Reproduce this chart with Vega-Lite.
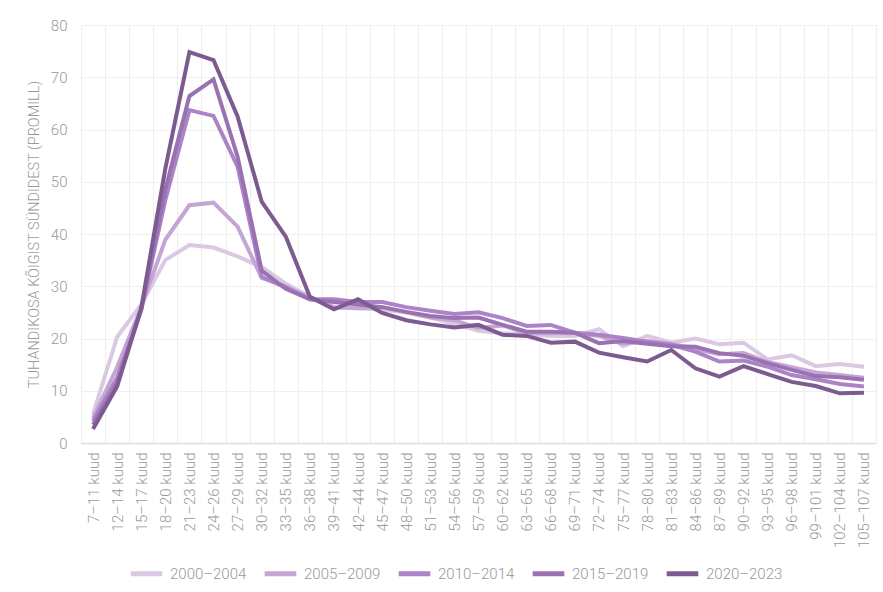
{
  "$schema": "https://vega.github.io/schema/vega-lite/v6.json",
  "width": 795,
  "height": 418,
  "autosize": "none",
  "padding": {"left": 81, "top": 25, "right": 7, "bottom": 149},
  "background": "#ffffff",
  "config": {
    "font": "Roboto",
    "view": {"stroke": null},
    "axis": {"labelFont": "Roboto", "titleFont": "Roboto"}
  },
  "datasets": {
    "d": [
      {"a":"7–11 kuud","p":"2000–2004","v":5.5},{"a":"12–14 kuud","p":"2000–2004","v":20.3},{"a":"15–17 kuud","p":"2000–2004","v":26.5},{"a":"18–20 kuud","p":"2000–2004","v":35.0},{"a":"21–23 kuud","p":"2000–2004","v":37.9},{"a":"24–26 kuud","p":"2000–2004","v":37.4},{"a":"27–29 kuud","p":"2000–2004","v":35.7},{"a":"30–32 kuud","p":"2000–2004","v":33.7},{"a":"33–35 kuud","p":"2000–2004","v":30.5},{"a":"36–38 kuud","p":"2000–2004","v":28.0},{"a":"39–41 kuud","p":"2000–2004","v":26.0},{"a":"42–44 kuud","p":"2000–2004","v":25.8},{"a":"45–47 kuud","p":"2000–2004","v":25.5},{"a":"48–50 kuud","p":"2000–2004","v":25.0},{"a":"51–53 kuud","p":"2000–2004","v":24.0},{"a":"54–56 kuud","p":"2000–2004","v":22.8},{"a":"57–59 kuud","p":"2000–2004","v":21.5},{"a":"60–62 kuud","p":"2000–2004","v":21.0},{"a":"63–65 kuud","p":"2000–2004","v":20.8},{"a":"66–68 kuud","p":"2000–2004","v":20.5},{"a":"69–71 kuud","p":"2000–2004","v":20.5},{"a":"72–74 kuud","p":"2000–2004","v":21.8},{"a":"75–77 kuud","p":"2000–2004","v":18.5},{"a":"78–80 kuud","p":"2000–2004","v":20.5},{"a":"81–83 kuud","p":"2000–2004","v":19.2},{"a":"84–86 kuud","p":"2000–2004","v":20.0},{"a":"87–89 kuud","p":"2000–2004","v":18.9},{"a":"90–92 kuud","p":"2000–2004","v":19.2},{"a":"93–95 kuud","p":"2000–2004","v":16.0},{"a":"96–98 kuud","p":"2000–2004","v":16.8},{"a":"99–101 kuud","p":"2000–2004","v":14.7},{"a":"102–104 kuud","p":"2000–2004","v":15.1},{"a":"105–107 kuud","p":"2000–2004","v":14.6},
      {"a":"7–11 kuud","p":"2005–2009","v":4.8},{"a":"12–14 kuud","p":"2005–2009","v":14.5},{"a":"15–17 kuud","p":"2005–2009","v":26.0},{"a":"18–20 kuud","p":"2005–2009","v":38.9},{"a":"21–23 kuud","p":"2005–2009","v":45.5},{"a":"24–26 kuud","p":"2005–2009","v":46.0},{"a":"27–29 kuud","p":"2005–2009","v":41.4},{"a":"30–32 kuud","p":"2005–2009","v":31.6},{"a":"33–35 kuud","p":"2005–2009","v":30.0},{"a":"36–38 kuud","p":"2005–2009","v":27.8},{"a":"39–41 kuud","p":"2005–2009","v":26.0},{"a":"42–44 kuud","p":"2005–2009","v":25.8},{"a":"45–47 kuud","p":"2005–2009","v":26.0},{"a":"48–50 kuud","p":"2005–2009","v":25.0},{"a":"51–53 kuud","p":"2005–2009","v":24.0},{"a":"54–56 kuud","p":"2005–2009","v":23.5},{"a":"57–59 kuud","p":"2005–2009","v":22.0},{"a":"60–62 kuud","p":"2005–2009","v":22.5},{"a":"63–65 kuud","p":"2005–2009","v":21.0},{"a":"66–68 kuud","p":"2005–2009","v":21.0},{"a":"69–71 kuud","p":"2005–2009","v":21.0},{"a":"72–74 kuud","p":"2005–2009","v":20.5},{"a":"75–77 kuud","p":"2005–2009","v":19.0},{"a":"78–80 kuud","p":"2005–2009","v":19.5},{"a":"81–83 kuud","p":"2005–2009","v":19.0},{"a":"84–86 kuud","p":"2005–2009","v":18.0},{"a":"87–89 kuud","p":"2005–2009","v":17.0},{"a":"90–92 kuud","p":"2005–2009","v":17.2},{"a":"93–95 kuud","p":"2005–2009","v":15.5},{"a":"96–98 kuud","p":"2005–2009","v":14.5},{"a":"99–101 kuud","p":"2005–2009","v":13.5},{"a":"102–104 kuud","p":"2005–2009","v":13.0},{"a":"105–107 kuud","p":"2005–2009","v":12.5},
      {"a":"7–11 kuud","p":"2010–2014","v":4.2},{"a":"12–14 kuud","p":"2010–2014","v":12.5},{"a":"15–17 kuud","p":"2010–2014","v":25.5},{"a":"18–20 kuud","p":"2010–2014","v":46.5},{"a":"21–23 kuud","p":"2010–2014","v":63.7},{"a":"24–26 kuud","p":"2010–2014","v":62.6},{"a":"27–29 kuud","p":"2010–2014","v":52.9},{"a":"30–32 kuud","p":"2010–2014","v":31.8},{"a":"33–35 kuud","p":"2010–2014","v":29.8},{"a":"36–38 kuud","p":"2010–2014","v":27.5},{"a":"39–41 kuud","p":"2010–2014","v":27.5},{"a":"42–44 kuud","p":"2010–2014","v":27.0},{"a":"45–47 kuud","p":"2010–2014","v":27.0},{"a":"48–50 kuud","p":"2010–2014","v":26.0},{"a":"51–53 kuud","p":"2010–2014","v":25.3},{"a":"54–56 kuud","p":"2010–2014","v":24.7},{"a":"57–59 kuud","p":"2010–2014","v":25.0},{"a":"60–62 kuud","p":"2010–2014","v":23.9},{"a":"63–65 kuud","p":"2010–2014","v":22.4},{"a":"66–68 kuud","p":"2010–2014","v":22.6},{"a":"69–71 kuud","p":"2010–2014","v":21.1},{"a":"72–74 kuud","p":"2010–2014","v":20.7},{"a":"75–77 kuud","p":"2010–2014","v":20.1},{"a":"78–80 kuud","p":"2010–2014","v":19.4},{"a":"81–83 kuud","p":"2010–2014","v":18.8},{"a":"84–86 kuud","p":"2010–2014","v":17.5},{"a":"87–89 kuud","p":"2010–2014","v":15.6},{"a":"90–92 kuud","p":"2010–2014","v":15.8},{"a":"93–95 kuud","p":"2010–2014","v":14.6},{"a":"96–98 kuud","p":"2010–2014","v":13.0},{"a":"99–101 kuud","p":"2010–2014","v":12.2},{"a":"102–104 kuud","p":"2010–2014","v":11.3},{"a":"105–107 kuud","p":"2010–2014","v":10.8},
      {"a":"7–11 kuud","p":"2015–2019","v":3.5},{"a":"12–14 kuud","p":"2015–2019","v":11.5},{"a":"15–17 kuud","p":"2015–2019","v":25.5},{"a":"18–20 kuud","p":"2015–2019","v":48.5},{"a":"21–23 kuud","p":"2015–2019","v":66.4},{"a":"24–26 kuud","p":"2015–2019","v":69.6},{"a":"27–29 kuud","p":"2015–2019","v":54.8},{"a":"30–32 kuud","p":"2015–2019","v":33.0},{"a":"33–35 kuud","p":"2015–2019","v":29.5},{"a":"36–38 kuud","p":"2015–2019","v":27.5},{"a":"39–41 kuud","p":"2015–2019","v":27.0},{"a":"42–44 kuud","p":"2015–2019","v":26.5},{"a":"45–47 kuud","p":"2015–2019","v":26.0},{"a":"48–50 kuud","p":"2015–2019","v":25.1},{"a":"51–53 kuud","p":"2015–2019","v":24.3},{"a":"54–56 kuud","p":"2015–2019","v":23.9},{"a":"57–59 kuud","p":"2015–2019","v":24.0},{"a":"60–62 kuud","p":"2015–2019","v":22.6},{"a":"63–65 kuud","p":"2015–2019","v":21.3},{"a":"66–68 kuud","p":"2015–2019","v":21.3},{"a":"69–71 kuud","p":"2015–2019","v":21.1},{"a":"72–74 kuud","p":"2015–2019","v":19.1},{"a":"75–77 kuud","p":"2015–2019","v":19.5},{"a":"78–80 kuud","p":"2015–2019","v":19.0},{"a":"81–83 kuud","p":"2015–2019","v":18.5},{"a":"84–86 kuud","p":"2015–2019","v":18.4},{"a":"87–89 kuud","p":"2015–2019","v":17.2},{"a":"90–92 kuud","p":"2015–2019","v":16.7},{"a":"93–95 kuud","p":"2015–2019","v":15.3},{"a":"96–98 kuud","p":"2015–2019","v":14.0},{"a":"99–101 kuud","p":"2015–2019","v":12.8},{"a":"102–104 kuud","p":"2015–2019","v":12.6},{"a":"105–107 kuud","p":"2015–2019","v":12.1},
      {"a":"7–11 kuud","p":"2020–2023","v":2.7},{"a":"12–14 kuud","p":"2020–2023","v":10.8},{"a":"15–17 kuud","p":"2020–2023","v":25.8},{"a":"18–20 kuud","p":"2020–2023","v":52.5},{"a":"21–23 kuud","p":"2020–2023","v":74.8},{"a":"24–26 kuud","p":"2020–2023","v":73.3},{"a":"27–29 kuud","p":"2020–2023","v":62.5},{"a":"30–32 kuud","p":"2020–2023","v":46.2},{"a":"33–35 kuud","p":"2020–2023","v":39.5},{"a":"36–38 kuud","p":"2020–2023","v":28.0},{"a":"39–41 kuud","p":"2020–2023","v":25.6},{"a":"42–44 kuud","p":"2020–2023","v":27.5},{"a":"45–47 kuud","p":"2020–2023","v":24.9},{"a":"48–50 kuud","p":"2020–2023","v":23.5},{"a":"51–53 kuud","p":"2020–2023","v":22.7},{"a":"54–56 kuud","p":"2020–2023","v":22.1},{"a":"57–59 kuud","p":"2020–2023","v":22.6},{"a":"60–62 kuud","p":"2020–2023","v":20.7},{"a":"63–65 kuud","p":"2020–2023","v":20.5},{"a":"66–68 kuud","p":"2020–2023","v":19.2},{"a":"69–71 kuud","p":"2020–2023","v":19.4},{"a":"72–74 kuud","p":"2020–2023","v":17.3},{"a":"75–77 kuud","p":"2020–2023","v":16.4},{"a":"78–80 kuud","p":"2020–2023","v":15.6},{"a":"81–83 kuud","p":"2020–2023","v":17.8},{"a":"84–86 kuud","p":"2020–2023","v":14.3},{"a":"87–89 kuud","p":"2020–2023","v":12.7},{"a":"90–92 kuud","p":"2020–2023","v":14.7},{"a":"93–95 kuud","p":"2020–2023","v":13.2},{"a":"96–98 kuud","p":"2020–2023","v":11.7},{"a":"99–101 kuud","p":"2020–2023","v":10.9},{"a":"102–104 kuud","p":"2020–2023","v":9.5},{"a":"105–107 kuud","p":"2020–2023","v":9.6}
    ]
  },
  "data": {"name": "d"},
  "mark": {"type": "line", "strokeWidth": 4, "strokeJoin": "miter"},
  "encoding": {
    "x": {
      "field": "a", "type": "ordinal", "sort": null,
      "bandPosition": 0.5,
      "scale": {"type": "band", "paddingInner": 0, "paddingOuter": 0},
      "axis": {
        "title": null, "labelAngle": -90, "labelFontSize": 15, "labelColor": "#999999",
        "labelPadding": 9, "ticks": false, "tickBand": "extent", "labelOverlap": false,
        "grid": true, "gridColor": "#efefef", "gridWidth": 1.2,
        "domainColor": "#dddddd", "domainWidth": 1.5, "labelFontWeight": 300
      }
    },
    "y": {
      "field": "v", "type": "quantitative",
      "scale": {"domain": [0, 80]},
      "axis": {
        "title": "TUHANDIKOSA KÕIGIST SÜNDIDEST (PROMILL)",
        "titleFontSize": 14.5, "titleColor": "#999999", "titleFontWeight": 300,
        "labelFontSize": 15, "labelColor": "#999999", "labelFontWeight": 300,
        "labelPadding": 14, "titlePadding": 9, "labelOverlap": false,
        "values": [0,10,20,30,40,50,60,70,80],
        "ticks": false, "domain": false,
        "gridColor": "#efefef", "gridWidth": 1.2
      }
    },
    "color": {
      "field": "p", "type": "nominal",
      "scale": {
        "domain": ["2000–2004","2005–2009","2010–2014","2015–2019","2020–2023"],
        "range": ["#dbc8e3","#c4a6d6","#ad83c8","#9a72b2","#7c5b91"]
      },
      "legend": {
        "title": null, "orient": "none", "direction": "horizontal",
        "legendX": 47, "legendY": 530,
        "symbolType": "stroke", "symbolStrokeWidth": 5, "symbolSize": 1000,
        "labelFontSize": 15, "labelColor": "#999999", "labelFontWeight": 300,
        "labelOffset": 5, "columnPadding": 7
      }
    }
  }
}
